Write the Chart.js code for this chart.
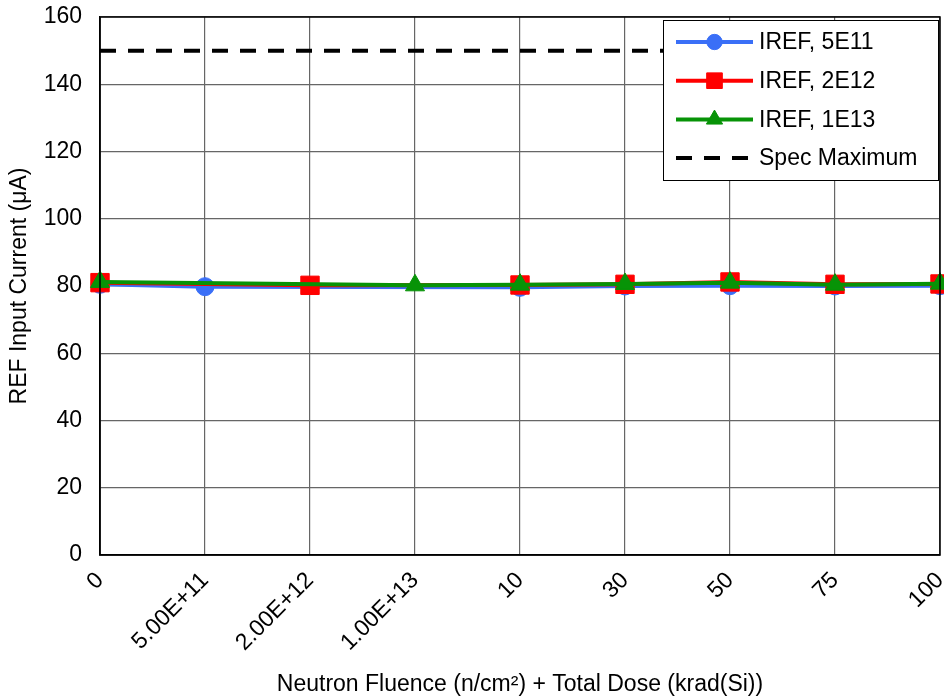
<!DOCTYPE html>
<html>
<head>
<meta charset="utf-8">
<script src="https://cdn.jsdelivr.net/npm/chart.js@4.4.1/dist/chart.umd.min.js"></script>
<style>
  html, body { margin: 0; padding: 0; background: #fff; }
  #wrap { width: 944px; height: 700px; }
</style>
</head>
<body>
<div id="wrap"><canvas id="irefChart" width="944" height="700"></canvas></div>
<script>
// Categories: neutron fluence steps, then total dose steps
const steps = ['0', '5.00E+11', '2.00E+12', '1.00E+13', '10', '30', '50', '75', '100'];

// REF input current (uA) per part group
const iref5e11 = [80.5, 79.8, null, null, 79.6, 80.0, 80.1, 80.0, 80.1];
const iref2e12 = [81.0, null, 80.2, null, 80.3, 80.5, 81.2, 80.5, 80.6];
const iref1e13 = [81.2, null, null, 80.2, 80.4, 80.6, 81.0, 80.4, 80.7];
const specMax = [150, 150, 150, 150, 150, 150, 150, 150, 150];

const yTicks = [0, 20, 40, 60, 80, 100, 120, 140, 160];

const FONT = 'Liberation Sans, Arial, sans-serif';
const FSIZE = 23;

// Boxed legend in the top-right corner of the plot
const boxLegend = {
    id: 'boxLegend',
    afterDraw(chart) {
        const ctx = chart.ctx;
        const area = chart.chartArea;
        const w = 275, h = 160;
        const x0 = area.right - w - 2;
        const y0 = area.top + 3;
        ctx.save();
        ctx.fillStyle = '#fff';
        ctx.fillRect(x0, y0, w, h);
        ctx.strokeStyle = '#000';
        ctx.lineWidth = 1;
        ctx.strokeRect(x0 + 0.5, y0 + 0.5, w, h);

        chart.data.datasets.forEach((ds, i) => {
            const cy = y0 + 22 + i * 38.7;
            const lx1 = x0 + 13, lx2 = x0 + 90;
            ctx.strokeStyle = ds.borderColor;
            ctx.lineWidth = ds.borderWidth;
            ctx.setLineDash(ds.borderDash || []);
            ctx.beginPath();
            ctx.moveTo(lx1, cy);
            ctx.lineTo(lx2, cy);
            ctx.stroke();
            ctx.setLineDash([]);
            if (ds.pointRadius > 0) {
                ctx.fillStyle = ds.backgroundColor;
                ctx.strokeStyle = ds.borderColor;
                ctx.lineWidth = 1;
                Chart.helpers.drawPoint(ctx, {
                    pointStyle: ds.pointStyle,
                    radius: ds.pointRadius * 0.85,
                    borderWidth: 1,
                    rotation: 0
                }, (lx1 + lx2) / 2, cy);
            }
            ctx.fillStyle = '#000';
            ctx.font = FSIZE + 'px ' + FONT;
            ctx.textBaseline = 'middle';
            ctx.textAlign = 'left';
            ctx.fillText(ds.label, lx2 + 6, cy + 1);
        });
        ctx.restore();
    }
};

const ctx = document.getElementById('irefChart').getContext('2d');
const irefChart = new Chart(ctx, {
    type: 'line',
    data: {
        labels: steps,
        datasets: [{
            label: 'IREF, 5E11',
            data: iref5e11,
            borderColor: '#3a6ff7',
            backgroundColor: '#3a6ff7',
            borderWidth: 4,
            pointStyle: 'circle',
            pointRadius: 9,
            pointBorderWidth: 1,
            spanGaps: true,
            order: 2
        }, {
            label: 'IREF, 2E12',
            data: iref2e12,
            borderColor: '#ff0000',
            backgroundColor: '#ff0000',
            borderWidth: 4,
            pointStyle: 'rect',
            pointRadius: 13,
            pointBorderWidth: 1,
            spanGaps: true,
            order: 1
        }, {
            label: 'IREF, 1E13',
            data: iref1e13,
            borderColor: '#079307',
            backgroundColor: '#079307',
            borderWidth: 4,
            pointStyle: 'triangle',
            pointRadius: 11,
            pointBorderWidth: 1,
            spanGaps: true,
            order: 0
        }, {
            label: 'Spec Maximum',
            data: specMax,
            borderColor: '#000',
            backgroundColor: '#000',
            borderWidth: 4,
            borderDash: [16, 12],
            pointRadius: 0,
            order: 3
        }]
    },
    options: {
        responsive: false,
        animation: false,
        layout: { autoPadding: false, padding: { top: 17, right: 4, left: 0, bottom: 0 } },
        plugins: {
            legend: { display: false },
            tooltip: { enabled: false }
        },
        scales: {
            x: {
                offset: false,
                afterFit(scale) {
                    scale.paddingLeft = 0;
                    scale.paddingRight = 0;
                    scale.height = 145;
                },
                grid: { color: '#666', lineWidth: 1.2, drawTicks: false },
                border: { color: '#000', width: 1.5 },
                ticks: {
                    color: '#000',
                    font: { family: FONT, size: FSIZE },
                    minRotation: 45,
                    maxRotation: 45,
                    autoSkip: false,
                    padding: 12
                },
                title: {
                    display: true,
                    text: 'Neutron Fluence (n/cm²) + Total Dose (krad(Si))',
                    color: '#000',
                    font: { family: FONT, size: FSIZE },
                    padding: { top: 0, bottom: 2 }
                }
            },
            y: {
                min: 0,
                max: 160,
                afterBuildTicks(axis) {
                    axis.ticks = yTicks.map(v => ({ value: v }));
                },
                afterFit(scale) {
                    scale.paddingTop = 0;
                    scale.paddingBottom = 0;
                    scale.width = 100;
                },
                grid: { color: '#666', lineWidth: 1.2, drawTicks: false },
                border: { color: '#000', width: 1.5 },
                ticks: {
                    color: '#000',
                    font: { family: FONT, size: FSIZE },
                    padding: 18
                },
                title: {
                    display: true,
                    text: 'REF Input Current (μA)',
                    color: '#000',
                    font: { family: FONT, size: FSIZE },
                    padding: { top: 6, bottom: 4 }
                }
            }
        }
    },
    plugins: [boxLegend, {
        id: 'frame',
        afterDatasetsDraw(chart) {
            const a = chart.chartArea;
            const c = chart.ctx;
            c.save();
            c.strokeStyle = '#000';
            c.lineWidth = 1.5;
            c.strokeRect(a.left, a.top, a.right - a.left, a.bottom - a.top);
            c.restore();
        }
    }]
});
</script>
</body>
</html>
